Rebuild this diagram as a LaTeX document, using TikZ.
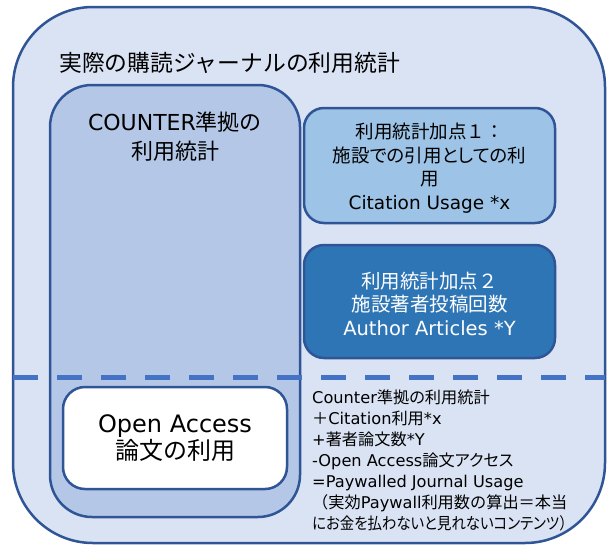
\documentclass[tikz,border=0pt]{standalone}
\usepackage{fontspec}
\setmainfont{DejaVu Sans}
\newfontfamily\jpf{Noto Sans CJK JP}
\newfontfamily\jpp{Noto Sans CJK JP}[RawFeature=+palt]
\newcommand\J[1]{{\jpf #1}}
\newcommand\JP[1]{{\jpp #1}}
\definecolor{outerfill}{HTML}{DAE3F3}
\definecolor{edge}{HTML}{2F5597}
\definecolor{counterfill}{HTML}{B4C7E7}
\definecolor{lightbox}{HTML}{9DC3E6}
\definecolor{darkbox}{HTML}{2E75B6}
\definecolor{dashcol}{HTML}{4472C4}
\tikzset{
  panel/.style={draw=edge, line width=2.5pt, inner sep=0pt, outer sep=0pt},
  divider/.style={draw=dashcol, line width=5pt, dash pattern=on 24.5pt off 19.5pt},
  plain/.style={inner sep=0pt, align=center, text=black},
}
\begin{document}
\begin{tikzpicture}[x=1pt,y=-1pt]
\useasboundingbox (0,0) rectangle (615,544);
% outer container
\node[panel, fill=outerfill, rounded corners=80pt, minimum width=592pt, minimum height=536pt] (outer) at (309,275) {};
\node[plain, anchor=west, font=\fontsize{22.8}{27}\selectfont] (title) at (59,63) {\J{実際の購読ジャーナルの利用統計}};
% COUNTER box
\node[panel, fill=counterfill, rounded corners=42pt, minimum width=250pt, minimum height=432pt] (counter) at (175,301) {};
\node[plain, font=\fontsize{22}{29}\selectfont] (counterlabel) at (175,137) {COUNTER\J{準拠の}\\\J{利用統計}};
% dashed divider
\coordinate (dl) at (13,377);
\coordinate (dr) at (605,377);
\draw[divider] (dl) -- (dr);
% open access box
\node[panel, fill=white, rounded corners=22pt, minimum width=224pt, minimum height=102pt,
      font=\fontsize{24}{28}\selectfont, align=center] (oa) at (175,438) {Open Access\\[-1pt]\J{論文の利用}};
% box 1
\node[panel, fill=lightbox, rounded corners=20pt, minimum width=251pt, minimum height=115pt] (b1) at (429.5,165.5) {};
\node[plain, font=\fontsize{18.5}{23.5}\selectfont] (b1text) at (429.5,168) {\J{利用統計加点１：}\\\JP{施設での引用としての利}\\\J{用}\\Citation Usage *x};
% box 2
\node[panel, fill=darkbox, rounded corners=20pt, minimum width=251pt, minimum height=113pt] (b2) at (429.5,301.5) {};
\node[plain, text=white, font=\fontsize{19.5}{23.5}\selectfont] (b2text) at (429.5,303.5) {\J{利用統計加点２}\\\J{施設著者投稿回数}\\Author Articles *Y};
% formula text
\node[plain, align=left, anchor=north west, font=\fontsize{16.2}{20.9}\selectfont] (formula) at (312,390)
{Counter\JP{準拠の利用統計}\\
\J{＋}Citation\JP{利用}*x\\
+\JP{著者論文数}*Y\\
-Open Access\JP{論文アクセス}\\
=Paywalled Journal Usage\\
\J{（実効}Paywall\J{利用数の算出＝本当}\\
\scalebox{0.89}[1]{\JP{にお金を払わないと見れないコンテンツ}\J{）}}};
\end{tikzpicture}
\end{document}
